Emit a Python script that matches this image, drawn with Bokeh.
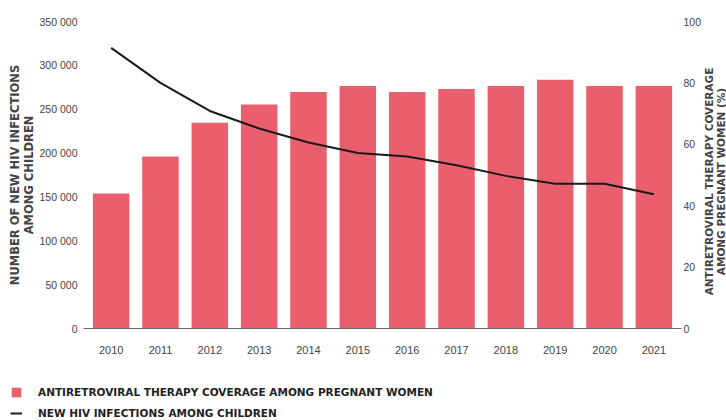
from bokeh.plotting import figure
from bokeh.layouts import column, row
from bokeh.models import Range1d, LinearAxis, FixedTicker, Legend, LegendItem, ColumnDataSource
from bokeh.embed import file_html
from bokeh.resources import INLINE

years = ["2010", "2011", "2012", "2013", "2014", "2015", "2016", "2017", "2018", "2019", "2020", "2021"]
art_coverage_pct = [44, 56, 67, 73, 77, 79, 77, 78, 79, 81, 79, 79]
new_infections_children = [320000, 280000, 248000, 228000, 212000, 200000, 196000, 186000, 174000, 165000, 165000, 153000]
left_ticks = [0, 50000, 100000, 150000, 200000, 250000, 300000, 350000]
left_tick_labels = ["0", "50 000", "100 000", "150 000", "200 000", "250 000", "300 000", "350 000"]
right_ticks = [0, 20, 40, 60, 80, 100]

left_title = "NUMBER OF NEW HIV INFECTIONS\nAMONG CHILDREN"
right_title = "ANTIRETROVIRAL THERAPY COVERAGE\nAMONG PREGNANT WOMEN (%)"
legend_labels = ["ANTIRETROVIRAL THERAPY COVERAGE AMONG PREGNANT WOMEN", "NEW HIV INFECTIONS AMONG CHILDREN"]

BAR_COLOR = "#E95F6E"
LINE_COLOR = "#1a1a1a"
TICK_FONT = "Liberation Sans"
TITLE_FONT = "DejaVu Sans"


def plain_axis(ax):
    ax.axis_line_color = None
    ax.major_tick_line_color = None
    ax.minor_tick_line_color = None
    ax.major_tick_out = 0
    ax.major_tick_in = 0
    ax.minor_tick_out = 0
    ax.minor_tick_in = 0


xs = list(range(len(years)))
src = ColumnDataSource(dict(x=xs, year=years, pct=art_coverage_pct, inf=new_infections_children))

# ---------------- main chart ----------------
p = figure(width=704, height=372, output_backend="svg", toolbar_location=None,
           x_range=Range1d(-0.56, 11.56), y_range=Range1d(0, 350000),
           min_border_left=83, min_border_right=12, min_border_top=21, min_border_bottom=44)
p.extra_y_ranges = {"pct": Range1d(0, 100)}
p.outline_line_color = None
p.xgrid.visible = False
p.ygrid.visible = False

bars = p.vbar(x="x", top="pct", width=0.74, source=src, y_range_name="pct",
              fill_color=BAR_COLOR, line_color=None)
line = p.line(x="x", y="inf", source=src, line_color=LINE_COLOR, line_width=2)

xa = p.xaxis[0]
plain_axis(xa)
xa.ticker = FixedTicker(ticks=xs)
xa.major_label_overrides = {i: y for i, y in enumerate(years)}
xa.axis_line_color = "#666666"
xa.major_label_standoff = 17
xa.major_label_text_font = TICK_FONT
xa.major_label_text_font_size = "11px"
xa.major_label_text_color = "#444444"

ya = p.yaxis[0]
plain_axis(ya)
ya.ticker = FixedTicker(ticks=left_ticks)
ya.major_label_overrides = {t: l for t, l in zip(left_ticks, left_tick_labels)}
ya.major_label_standoff = 6
ya.major_label_text_font = TICK_FONT
ya.major_label_text_font_size = "10.5px"
ya.major_label_text_color = "#444444"
ya.axis_label = left_title
ya.axis_label_text_font = TITLE_FONT
ya.axis_label_text_font_style = "bold"
ya.axis_label_text_font_size = "11.5px"
ya.axis_label_text_line_height = 1.0
ya.axis_label_text_color = "#444444"
ya.axis_label_standoff = 1
ya.axis_label_text_align = "center"

ra = LinearAxis(y_range_name="pct", ticker=FixedTicker(ticks=right_ticks))
plain_axis(ra)
ra.major_label_standoff = 2
ra.major_label_text_font = TICK_FONT
ra.major_label_text_font_size = "10.5px"
ra.major_label_text_color = "#444444"
p.add_layout(ra, "right")

# ---------------- right title strip (reads bottom to top) ----------------
rf = figure(width=22, height=372, output_backend="svg", toolbar_location=None,
            x_range=Range1d(0, 1), y_range=Range1d(0, 100), x_axis_type=None,
            min_border=0, min_border_top=30, min_border_bottom=40)
rf.frame_align = False
rf.outline_line_color = None
rf.xgrid.visible = False
rf.ygrid.visible = False
rf.background_fill_alpha = 0
rya = rf.yaxis[0]
plain_axis(rya)
rya.ticker = FixedTicker(ticks=[0])
rya.major_label_overrides = {0: ""}
rya.major_label_standoff = 0
rya.major_label_text_font_size = "1px"
rya.axis_label = right_title
rya.axis_label_text_font = TITLE_FONT
rya.axis_label_text_font_style = "bold"
rya.axis_label_text_font_size = "10.5px"
rya.axis_label_text_line_height = 1.0
rya.axis_label_text_color = "#444444"
rya.axis_label_standoff = 0
rya.axis_label_text_align = "center"

# ---------------- legend strip ----------------
lf = figure(width=704, height=48, output_backend="svg", toolbar_location=None,
            x_range=Range1d(-0.56, 11.56), y_range=Range1d(0, 350000),
            x_axis_type=None, y_axis_type=None, min_border=0)
lf.frame_align = False
lf.outline_line_color = None
lf.xgrid.visible = False
lf.ygrid.visible = False
lbar = lf.vbar(x="x", top="pct", width=0.74, source=src, fill_color=BAR_COLOR, line_color=None)
lline = lf.line(x="x", y="inf", source=src, line_color=LINE_COLOR, line_width=2)
lbar.visible = False
lline.visible = False

legend = Legend(items=[
    LegendItem(label=legend_labels[0], renderers=[lbar]),
    LegendItem(label=legend_labels[1], renderers=[lline]),
], location=(10, 0), orientation="vertical")
legend.padding = 0
legend.margin = 0
legend.spacing = 7
legend.glyph_width = 12
legend.glyph_height = 12
legend.label_height = 14
legend.label_standoff = 16
legend.border_line_color = None
legend.background_fill_alpha = 0
legend.inactive_fill_alpha = 0
legend.label_text_font = TITLE_FONT
legend.label_text_font_style = "bold"
legend.label_text_font_size = "10.5px"
legend.label_text_color = "#222222"
lf.add_layout(legend, "center")

layout = row(column(p, lf, spacing=0), rf, spacing=0)
open("out.html", "w").write(file_html(layout, INLINE))
